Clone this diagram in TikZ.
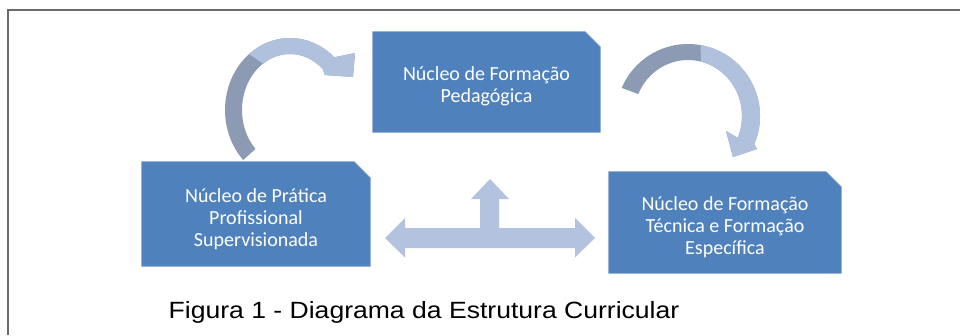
\documentclass[tikz,border=0pt]{standalone}
\usepackage{fontspec}
\setmainfont{Carlito}
\newfontfamily\capfont{Liberation Sans}
\usetikzlibrary{backgrounds,calc}
\definecolor{boxblue}{HTML}{4F81BD}
\definecolor{boxedge}{HTML}{6F95C6}
\definecolor{arrdark}{HTML}{8C9AB3}
\definecolor{arrlight}{HTML}{B0C1DD}
\definecolor{dblarr}{HTML}{B3C3DF}
\definecolor{framegray}{HTML}{6A6A6A}
\newcommand\snipfill[2]{%
  \fill[boxblue,draw=boxedge,line width=0.7pt] (#1.south west) -- (#1.north west) -- ([xshift=-#2pt]#1.north east)
    -- ([yshift=-#2pt]#1.north east) -- (#1.south east) -- cycle;}
\begin{document}
\begin{tikzpicture}[x=1pt,y=-1pt,
  boxshape/.style={inner sep=0pt},
  boxtext/.style={inner sep=0pt, align=center, text=white, font=\fontsize{20}{22}\selectfont},
  darkband/.style={fill=arrdark},
  lightband/.style={fill=arrlight},
  dblshape/.style={fill=dblarr}]
\useasboundingbox (0,0) rectangle (960,335);
% frame
\draw[framegray, line width=1.8pt] (8,335) -- (8,10) -- (960,10);

% boxes
\node[boxshape, minimum width=227pt, minimum height=100pt] (ped) at (486.5,82) {};
\node[boxshape, minimum width=228pt, minimum height=104pt] (pra) at (256,214) {};
\node[boxshape, minimum width=232pt, minimum height=101pt] (tec) at (725,222.5) {};
\begin{scope}[on background layer]
  \snipfill{ped}{15}
  \snipfill{pra}{16}
  \snipfill{tec}{15}
\end{scope}
\node[boxtext] (pedt) at ([yshift=-4.5pt]ped.center) {Núcleo de Formação\\Pedagógica};
\node[boxtext] (prat) at ([yshift=-5pt]pra.center) {Núcleo de Prática\\Profissional\\Supervisionada};
\node[boxtext] (tect) at ([yshift=-5pt]tec.center) {Núcleo de Formação\\Técnica e Formação\\Específica};

% left curved arrow (from Pratica to Pedagogica)
\fill[darkband] plot[domain=136:313,samples=80] ({290+65*cos(\x)},{110+72*sin(\x)})
  -- (355,53) -- (353,77) -- (325,75)
  -- plot[domain=313:136,samples=80] ({290+48*cos(\x)},{110+56*sin(\x)}) -- cycle;
\fill[lightband] plot[domain=231:313,samples=60] ({290+65*cos(\x)},{110+72*sin(\x)})
  -- (355,53) -- (353,77) -- (325,75)
  -- plot[domain=313:236,samples=60] ({290+48*cos(\x)},{110+56*sin(\x)}) -- cycle;

% right curved arrow (from Pedagogica to Tecnica)
\fill[darkband] plot[domain=203:383,samples=80] ({688+72*cos(\x)},{116+72*sin(\x)})
  -- (757,149) -- (733,157) -- (726,131)
  -- plot[domain=383:203,samples=80] ({688+54*cos(\x)},{116+56*sin(\x)}) -- cycle;
\fill[lightband] plot[domain=280:383,samples=60] ({688+72*cos(\x)},{116+72*sin(\x)})
  -- (757,149) -- (733,157) -- (726,131)
  -- plot[domain=383:284,samples=60] ({688+54*cos(\x)},{116+56*sin(\x)}) -- cycle;

% three-way arrow
\fill[dblshape] (385,238) -- (405,218) -- (405,228) -- (480,228) -- (480,199) -- (471,199)
  -- (490,179) -- (509,199) -- (499,199) -- (499,228) -- (575,228) -- (575,218)
  -- (595,238) -- (575,257.5) -- (575,248) -- (405,248) -- (405,257.5) -- cycle;

% caption
\node[font=\capfont\fontsize{23.5}{26}\selectfont, anchor=base] (cap) at (424,318)
  {\scalebox{1.13}[1]{Figura 1 - Diagrama da Estrutura Curricular}};
\end{tikzpicture}
\end{document}
